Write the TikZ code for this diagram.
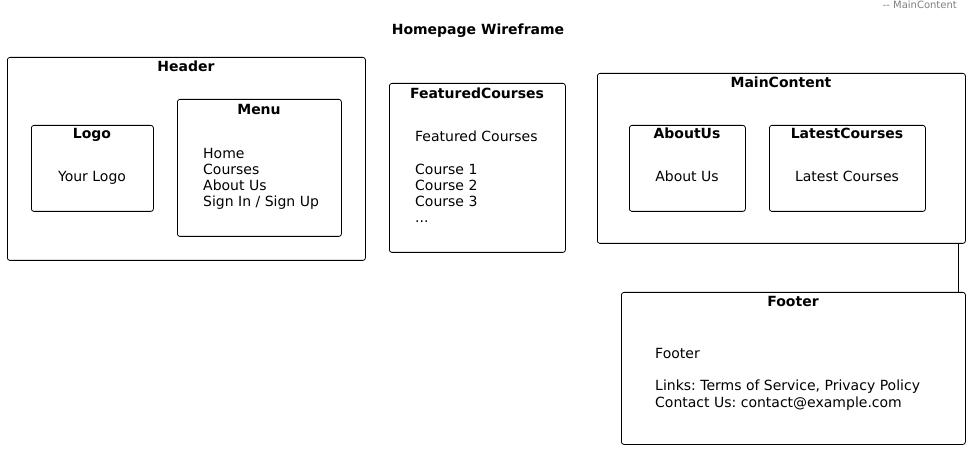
\documentclass[tikz,border=0pt]{standalone}
\usepackage{fontspec}
\setmainfont{DejaVu Sans}
\usetikzlibrary{positioning}
\frenchspacing

\begin{document}
\begin{tikzpicture}[x=1pt, y=-1pt,
    frame/.style={draw, rounded corners=2.5pt, line width=0.8pt, inner sep=0pt, anchor=north west},
    ttl/.style={font=\fontsize{14}{16}\selectfont\bfseries, anchor=base, inner sep=0pt},
    txt/.style={font=\fontsize{14}{16.3}\selectfont, align=left, anchor=base west, inner sep=0pt},
    ctr/.style={font=\fontsize{14}{16.3}\selectfont, anchor=base, inner sep=0pt}
]
\useasboundingbox[fill=white] (0,0) rectangle (970,449);

% Title
\node[ttl] (title) at (478,35) {Homepage Wireframe};
\node[font=\fontsize{10}{11}\selectfont, text=gray, anchor=base east, inner sep=0pt] (note) at (957,9) {-{}- MainContent};

% Header
\node[frame, minimum width=358pt, minimum height=203pt] (header) at (7,57) {};
\node[ttl] (headerT) at (186,72) {Header};
\node[frame, minimum width=122pt, minimum height=86pt] (logo) at (31,125) {};
\node[ttl] (logoT) at (92,139) {Logo};
\node[ctr] (logoX) at (92,182) {Your Logo};
\node[frame, minimum width=164pt, minimum height=137pt] (menu) at (177,99) {};
\node[ttl] (menuT) at (259,115) {Menu};
\node[txt] (menuX) at (203,207) {Home\\Courses\\About Us\\Sign In / Sign Up};

% Featured courses
\node[frame, minimum width=176pt, minimum height=169pt] (featured) at (389,83) {};
\node[ttl] (featuredT) at (477,99) {FeaturedCourses};
\node[txt] (featuredX) at (415,223) {Featured Courses\\[16.3pt]Course 1\\Course 2\\Course 3\\...};

% Main content
\node[frame, minimum width=368pt, minimum height=170pt] (main) at (597,73) {};
\node[ttl] (mainT) at (781,88) {MainContent};
\node[frame, minimum width=116pt, minimum height=86pt] (about) at (629,125) {};
\node[ttl] (aboutT) at (687,139) {AboutUs};
\node[ctr] (aboutX) at (687,182) {About Us};
\node[frame, minimum width=156pt, minimum height=86pt] (latest) at (769,125) {};
\node[ttl] (latestT) at (847,139) {LatestCourses};
\node[ctr] (latestX) at (847,182) {Latest Courses};

% Footer
\node[frame, minimum width=344pt, minimum height=152pt] (footer) at (621,292) {};
\node[ttl] (footerT) at (793,307) {Footer};
\node[txt] (footerX) at (655,407) {Footer\\[16.3pt]Links: Terms of Service, Privacy Policy\\Contact Us: contact@example.com};

% Link
\draw[line width=0.8pt] ([xshift=-7pt]main.south east) -- ([xshift=-7pt]footer.north east);

\end{tikzpicture}
\end{document}
